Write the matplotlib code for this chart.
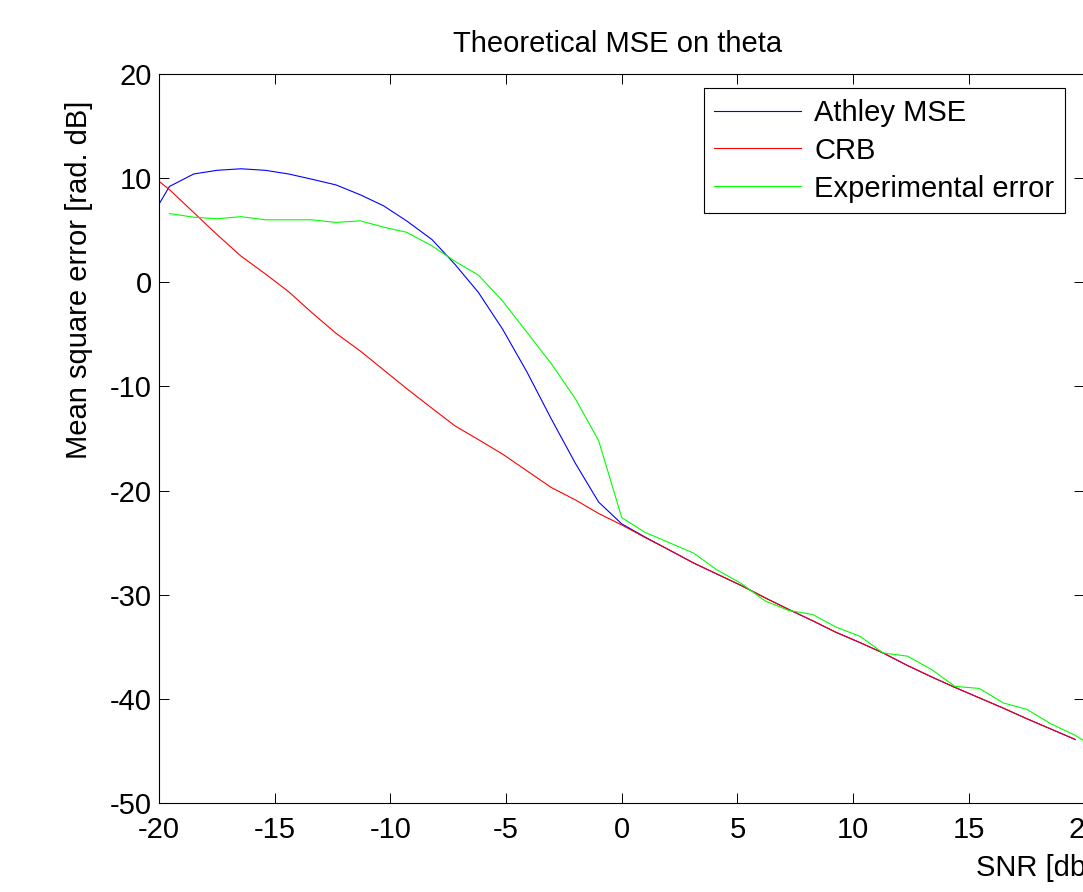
import matplotlib
matplotlib.use("Agg")
import matplotlib.pyplot as plt

# -------------------------------
# DATA
# -------------------------------
snr = [-20.0, -19.55, -18.5, -17.5, -16.45, -15.4, -14.4, -13.4, -12.35, -11.3,
       -10.3, -9.3, -8.2, -7.2, -6.2, -5.15, -4.1, -3.05, -2.0, -1.0,
       0.0, 1.0, 2.05, 3.1, 4.1, 5.15, 6.2, 7.2, 8.25, 9.25,
       10.3, 11.3, 12.35, 13.4, 14.4, 15.45, 16.5, 17.5, 18.55, 19.6]

athley_mse = [7.5, 9.2, 10.4, 10.75, 10.9, 10.75, 10.4, 9.9, 9.35, 8.4,
              7.35, 5.9, 4.1, 1.7, -0.96, -4.5, -8.6, -13.1, -17.4, -21.1,
              -23.2, -24.45, -25.7, -26.95, -28.0, -29.1, -30.3, -31.4, -32.5, -33.6,
              -34.6, -35.6, -36.8, -37.9, -38.9, -39.9, -40.9, -41.9, -42.9, -43.9]

crb = [9.7, 8.9, 6.7, 4.6, 2.5, 0.8, -0.9, -2.9, -4.9, -6.6,
       -8.4, -10.2, -12.1, -13.8, -15.1, -16.5, -18.1, -19.7, -20.9, -22.2,
       -23.3, -24.5, -25.7, -26.95, -28.0, -29.1, -30.3, -31.4, -32.5, -33.6,
       -34.6, -35.6, -36.8, -37.9, -38.9, -39.9, -40.9, -41.9, -42.9, -43.9]

snr_exp = [-19.55, -18.5, -17.5, -16.45, -15.4, -14.4, -13.4, -12.35, -11.3,
           -10.3, -9.3, -8.2, -7.2, -6.2, -5.15, -4.1, -3.05, -2.0, -1.0,
           0.0, 1.0, 2.05, 3.1, 4.1, 5.15, 6.2, 7.2, 8.25, 9.25,
           10.3, 11.3, 12.35, 13.4, 14.4, 15.45, 16.5, 17.5, 18.55, 19.6, 20.6]

exp_error = [6.6, 6.25, 6.1, 6.3, 6.0, 6.0, 6.0, 5.75, 5.9,
             5.3, 4.8, 3.5, 2.0, 0.7, -1.8, -4.8, -7.8, -11.2, -15.2,
             -22.6, -24.0, -25.0, -26.0, -27.6, -28.9, -30.6, -31.5, -31.9, -33.1,
             -34.0, -35.6, -35.9, -37.2, -38.8, -39.0, -40.4, -41.0, -42.4, -43.5, -44.9]

x_ticks = [-20, -15, -10, -5, 0, 5, 10, 15, 20]
y_ticks = [-50, -40, -30, -20, -10, 0, 10, 20]

# -------------------------------
# FIGURE
# -------------------------------
plt.rcParams["font.family"] = ["Liberation Sans", "DejaVu Sans"]
plt.rcParams["axes.unicode_minus"] = False
fs = 21

fig = plt.figure(figsize=(10.83, 8.92), dpi=100)
ax = fig.add_axes([159 / 1083, 89 / 892, 925.5 / 1083, 729 / 892])

ax.plot(snr, athley_mse, color=(0, 0, 1), lw=0.8, label="Athley MSE")
ax.plot(snr, crb, color=(1, 0, 0), lw=0.8, label="CRB")
ax.plot(snr_exp, exp_error, color=(0, 1, 0), lw=0.8, label="Experimental error")

ax.set_xlim(-20, 20)
ax.set_ylim(-50, 20)
ax.set_xticks(x_ticks)
ax.set_yticks(y_ticks)
ax.tick_params(direction="in", length=7.2, width=0.7, top=True, right=True,
               labelsize=fs, colors="black")
ax.tick_params(axis="x", pad=9)
ax.tick_params(axis="y", pad=5)
for sp in ax.spines.values():
    sp.set_linewidth(0.8)

ax.set_title("Theoretical MSE on theta", fontsize=fs, x=0.496, pad=16)
ax.set_xlabel("SNR [db]", fontsize=fs)
ax.set_ylabel("Mean square error [rad. dB]", fontsize=fs)
ax.xaxis.set_label_coords(0.947, -0.07)
ax.yaxis.set_label_coords(-0.0714, 0.7174)

# legend box hugs the top right corner
leg = ax.legend(loc="upper right", bbox_to_anchor=(0.979, 0.9804),
                borderaxespad=0, fontsize=fs, fancybox=False, framealpha=1,
                edgecolor="black", handlelength=2.98, handletextpad=0.45,
                labelspacing=0.34, borderpad=0.36)
leg.get_frame().set_linewidth(0.8)

fig.savefig("out.png", dpi=100)
